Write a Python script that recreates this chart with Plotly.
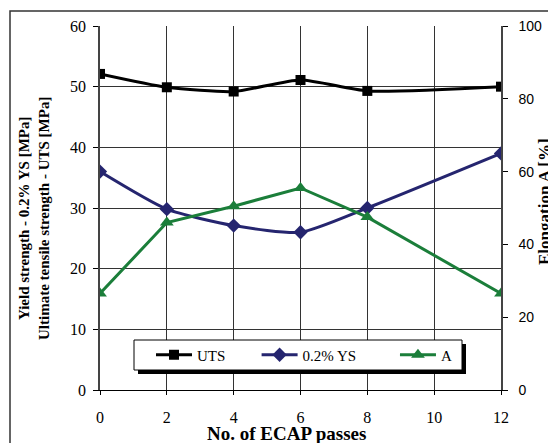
import plotly.graph_objects as go

passes = [0, 2, 4, 6, 8, 12]
uts = [52.1, 49.9, 49.2, 51.1, 49.3, 50.0]
ys = [36.0, 29.8, 27.1, 26.0, 30.0, 39.0]
elong = [26.5, 46.0, 50.5, 55.5, 47.5, 26.5]

x_ticks = [0, 2, 4, 6, 8, 10, 12]
left_ticks = [0, 10, 20, 30, 40, 50, 60]
right_ticks = [0, 20, 40, 60, 80, 100]

# page body has an 8px margin; work in screen pixels and convert
OFF = 8
W, H = 556 - OFF, 443 - OFF
SL, SR, ST, SB = 100, 501, 26, 390  # plot area in screen pixels


def px(xs):
    return (xs - SL) / (SR - SL)


def py(ys_):
    return (SB - ys_) / (SB - ST)


serif = "Liberation Serif, Times New Roman, serif"
sans = "Liberation Sans, Arial, sans-serif"
NBSP = "\u00a0"

fig = go.Figure()
fig.add_trace(go.Scatter(
    x=passes, y=uts, name="UTS" + NBSP * 7, mode="lines+markers",
    line=dict(color="black", width=3, shape="spline", smoothing=0.6),
    marker=dict(symbol="square", size=10, color="black"),
))
fig.add_trace(go.Scatter(
    x=passes, y=ys, name="0.2% YS" + NBSP * 9, mode="lines+markers",
    line=dict(color="#25256f", width=3, shape="spline", smoothing=0.6),
    marker=dict(symbol="diamond", size=11, color="#25256f"),
))
fig.add_trace(go.Scatter(
    x=passes, y=elong, name="A", mode="lines+markers", yaxis="y2",
    line=dict(color="#1b7e3a", width=3),
    marker=dict(symbol="triangle-up", size=12, color="#1b7e3a"),
))

# outer frame
fig.add_shape(type="rect", xref="paper", yref="paper",
              x0=px(10), y0=py(800), x1=px(900), y1=py(11),
              line=dict(color="#333333", width=1.5), layer="below")
# legend shadow and box
fig.add_shape(type="rect", xref="paper", yref="paper",
              x0=px(138), y0=py(374), x1=px(466), y1=py(344),
              line=dict(width=0), fillcolor="black", layer="above")
fig.add_shape(type="rect", xref="paper", yref="paper",
              x0=px(134), y0=py(370), x1=px(462), y1=py(340),
              line=dict(width=1, color="black"), fillcolor="white", layer="above")

fig.add_annotation(xref="paper", yref="paper", x=px(34), y=py(219),
                   xanchor="center", yanchor="middle",
                   text="<b>Yield strength - 0.2% YS [MPa]<br>Ultimate tensile strength - UTS [MPa]</b>",
                   textangle=-90, showarrow=False,
                   font=dict(family=serif, size=15, color="black"))
fig.add_annotation(xref="paper", yref="paper", x=px(545), y=py(202),
                   xanchor="center", yanchor="middle",
                   text="<b>Elongation A [%]</b>", textangle=-90, showarrow=False,
                   font=dict(family=serif, size=17, color="black"))
fig.add_annotation(xref="paper", yref="paper", x=px(286), y=py(433),
                   xanchor="center", yanchor="middle",
                   text="<b>No. of ECAP passes</b>", showarrow=False,
                   font=dict(family=serif, size=19, color="black"))

fig.update_layout(
    width=W, height=H,
    margin=dict(l=SL - OFF, r=556 - SR, t=ST - OFF, b=443 - SB, autoexpand=False),
    paper_bgcolor="white", plot_bgcolor="white",
    showlegend=True,
    legend=dict(orientation="h", x=px(151), y=py(355), xanchor="left", yanchor="middle",
                bgcolor="rgba(0,0,0,0)", borderwidth=0,
                font=dict(family=serif, size=15, color="black"),
                itemwidth=36, tracegroupgap=0),
    xaxis=dict(range=[0, 12], tickvals=x_ticks, ticktext=[str(v) for v in x_ticks],
               showgrid=True, gridcolor="#333333", gridwidth=1,
               showline=True, linecolor="black", linewidth=1,
               ticks="outside", ticklen=4, tickcolor="black", ticklabelstandoff=9,
               tickfont=dict(family=serif, size=16, color="black"), zeroline=False),
    yaxis=dict(range=[0, 60], tickvals=left_ticks, showgrid=True, gridcolor="#333333",
               gridwidth=1, showline=True, linecolor="#444444", linewidth=1.5,
               ticks="outside", ticklen=5, tickcolor="black", ticklabelstandoff=4,
               tickfont=dict(family=serif, size=16, color="black"), zeroline=False),
    yaxis2=dict(range=[0, 100], tickvals=right_ticks, overlaying="y", side="right",
                showgrid=False, showline=True, linecolor="#444444", linewidth=1.5,
                ticks="outside", ticklen=5, tickcolor="black", ticklabelstandoff=8,
                tickfont=dict(family=sans, size=14, color="black"), zeroline=False),
)

fig.write_html("out.html")
